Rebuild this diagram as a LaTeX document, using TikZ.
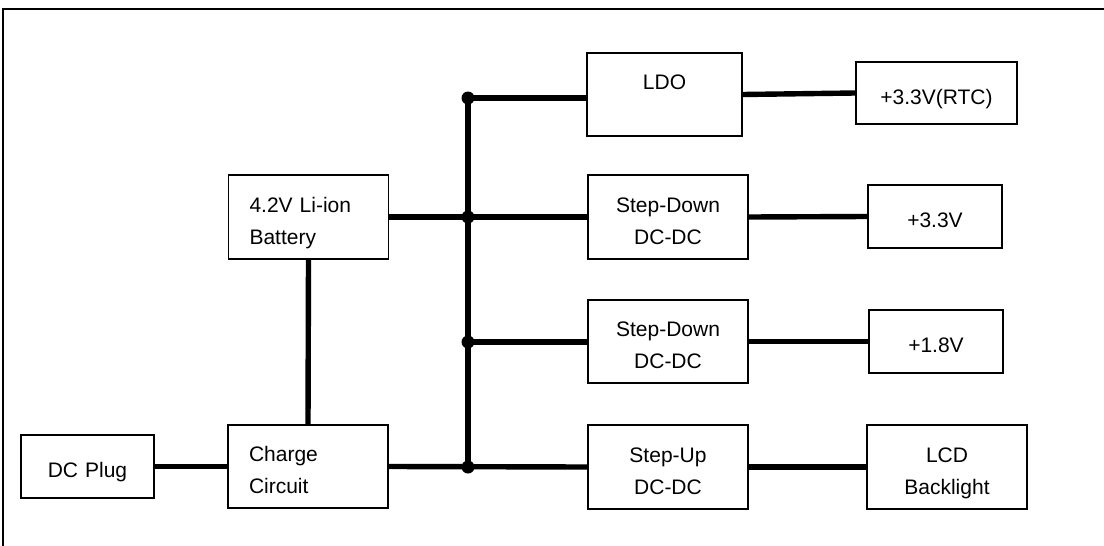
\documentclass[tikz,border=0pt]{standalone}
\usepackage{fontspec}
\setmainfont{Liberation Sans}
\begin{document}
\begin{tikzpicture}[x=0.5pt,y=0.5pt,
  blk/.style={draw=black,line width=0.85pt,rectangle,inner sep=0pt,align=center,
    font=\fontsize{10.5}{16}\selectfont,text width=#1,minimum width=#1,minimum height=42pt,
    execute at begin node={\rule{0pt}{14pt}},
    execute at end node={\rule[-3pt]{0pt}{0pt}}},
  blk/.default=80pt,
  lblk/.style={blk,align=left,text width=59pt,inner xsep=10.5pt},
  outblk/.style={blk=#1,minimum height=31.5pt},
  outblk/.default=67pt,
  wire/.style={draw=black,line width=2.7pt},
  dot/.style={fill=black,circle,inner sep=0pt,minimum size=6.5pt}]
\useasboundingbox (0,0) rectangle (1104,-546);
\draw [black,line width=0.8pt] (3,-546) -- (3,-9) -- (1104,-9);
\node [outblk=66.5pt] (plug) at (87.5,-466.5) {DC Plug};
\node [lblk,minimum height=41.5pt] (charge) at (308,-466.5) {Charge\\Circuit};
\node [lblk] (batt) at (308.5,-217) {4.2V Li-ion\\Battery};
\node [blk=77.5pt,minimum height=41.5pt] (ldo) at (664.5,-94.5) {LDO\\\mbox{}};
\node [blk] (sd1) at (668,-217) {Step-Down\\DC-DC};
\node [blk,minimum height=41.5pt] (sd2) at (668,-341.5) {Step-Down\\DC-DC};
\node [blk] (su) at (668,-467) {Step-Up\\DC-DC};
\node [outblk=80.5pt,minimum height=31pt] (rtc) at (936.5,-93) {+3.3V(RTC)};
\node [outblk] (o33) at (935,-216.5) {+3.3V};
\node [outblk] (o18) at (936,-341.5) {+1.8V};
\node [blk] (lcd) at (947,-467) {LCD\\Backlight};
\coordinate (j1) at (468,-98);
\coordinate (j2) at (468,-217);
\coordinate (j3) at (468,-342);
\coordinate (j4) at (468,-467);
\draw [wire] (plug.east) -- (charge.west);
\draw [wire] (batt.south) -- (charge.north);
\draw [wire] (charge.east) -- (su.west);
\draw [wire] (batt.east) -- (sd1.west);
\draw [wire] (j1) -- (j4);
\draw [wire] (j1) -- (j1 -| ldo.west);
\draw [wire] (j3) -- (j3 -| sd2.west);
\draw [wire] (ldo.east) -- (rtc.west);
\draw [wire] (sd1.east) -- (o33.west);
\draw [wire] (sd2.east) -- (o18.west);
\draw [wire] (su.east) -- (lcd.west);
\foreach \j in {j1,j2,j3,j4}
  \node [dot] at (\j) {};
\end{tikzpicture}
\end{document}
